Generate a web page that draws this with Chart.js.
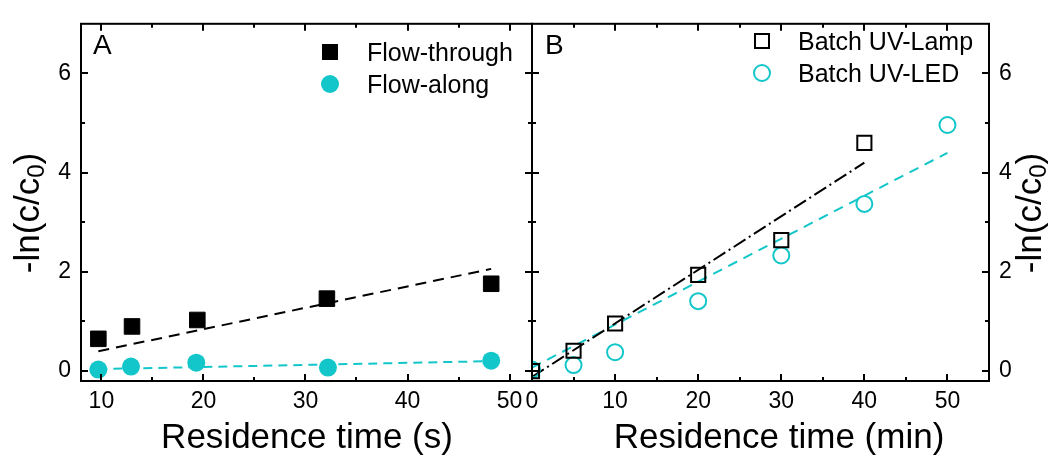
<!DOCTYPE html>
<html>
<head>
<meta charset="utf-8">
<script src="https://cdn.jsdelivr.net/npm/chart.js@4.4.0/dist/chart.umd.min.js"></script>
<style>
  html, body { margin: 0; padding: 0; background: #fff; }
  #wrap { position: relative; width: 1059px; height: 455px; }
  #wrap canvas { position: absolute; left: 0; top: 0; }
</style>
</head>
<body>
<div id="wrap">
  <canvas id="panelA" width="1059" height="455"></canvas>
  <canvas id="panelB" width="1059" height="455"></canvas>
</div>
<script>
// Panel A — residence time (s)
const flowThroughX = [9.7, 13.0, 19.4, 32.1, 48.2];
const flowThroughY = [0.65, 0.90, 1.03, 1.46, 1.76];
const flowAlongX = [9.7, 12.9, 19.3, 32.2, 48.2];
const flowAlongY = [0.03, 0.09, 0.17, 0.07, 0.21];
const fitThroughX = [9.7, 48.2];
const fitThroughY = [0.40, 2.06];
const fitAlongX = [9.7, 48.2];
const fitAlongY = [0.04, 0.20];

// Panel B — residence time (min)
const lampX = [0, 5, 10, 20, 30, 40];
const lampY = [0.0, 0.41, 0.96, 1.94, 2.64, 4.60];
const ledX = [0, 5, 10, 20, 30, 40, 50];
const ledY = [0.03, 0.12, 0.38, 1.41, 2.33, 3.37, 4.96];
const fitLampX = [0, 40];
const fitLampY = [-0.12, 4.20];
const fitLedX = [0, 50];
const fitLedY = [0.07, 4.40];

// Tick labels
const xTicksA = [10, 20, 30, 40, 50];
const xMinorA = [15, 25, 35, 45];
const xTicksB = [0, 10, 20, 30, 40, 50];
const xMinorB = [5, 15, 25, 35, 45];
const yTicks = [0, 2, 4, 6];
const yMinor = [1, 3, 5];

const CYAN = '#12c6c9';
const FONT = "'Liberation Sans', Arial, sans-serif";

const pts = (xs, ys) => xs.map((x, i) => ({ x: x, y: ys[i] }));

function drawMarker(ctx, style, filled, color, x, y, size) {
  ctx.beginPath();
  if (style === 'rect') ctx.rect(x - size / 2, y - size / 2, size, size);
  else ctx.arc(x, y, size / 2, 0, Math.PI * 2);
  if (filled) { ctx.fillStyle = color; ctx.fill(); }
  else { ctx.strokeStyle = color; ctx.lineWidth = 2; ctx.stroke(); }
}

function drawYTitle(ctx, cx, cy) {
  const big = '35px ' + FONT, small = '24px ' + FONT;
  ctx.font = big;
  const w1 = ctx.measureText('-ln(c/c').width;
  const w3 = ctx.measureText(')').width;
  ctx.font = small;
  const w2 = ctx.measureText('0').width;
  ctx.save();
  ctx.translate(cx, cy);
  ctx.rotate(-Math.PI / 2);
  ctx.fillStyle = '#000';
  ctx.textAlign = 'left';
  ctx.textBaseline = 'middle';
  let p = -(w1 + w2 + w3) / 2;
  ctx.font = big; ctx.fillText('-ln(c/c', p, 0); p += w1;
  ctx.font = small; ctx.fillText('0', p, 8); p += w2;
  ctx.font = big; ctx.fillText(')', p, 0);
  ctx.restore();
}

// frame, inward ticks on all four sides, legend, letters and titles
const framePlugin = {
  id: 'frame',
  afterDatasetsDraw(chart, args, o) {
    const { ctx, chartArea: a } = chart;
    const xs = chart.scales.x, ys = chart.scales.y;
    ctx.save();
    ctx.strokeStyle = '#000';
    ctx.lineWidth = 2;
    ctx.strokeRect(a.left, a.top, a.right - a.left, a.bottom - a.top);

    const xTick = (v, len) => {
      const px = Math.round(xs.getPixelForValue(v));
      ctx.beginPath();
      ctx.moveTo(px, a.bottom); ctx.lineTo(px, a.bottom - len);
      ctx.moveTo(px, a.top); ctx.lineTo(px, a.top + len);
      ctx.stroke();
    };
    const yTick = (v, len) => {
      const py = Math.round(ys.getPixelForValue(v));
      ctx.beginPath();
      ctx.moveTo(a.left, py); ctx.lineTo(a.left + len, py);
      ctx.moveTo(a.right, py); ctx.lineTo(a.right - len, py);
      ctx.stroke();
    };
    o.xMajor.forEach(v => xTick(v, 7));
    o.xMinor.forEach(v => xTick(v, 4));
    yTicks.forEach(v => yTick(v, 7));
    yMinor.forEach(v => yTick(v, 4));

    // legend inside the plot
    ctx.font = '25px ' + FONT;
    ctx.textAlign = 'left';
    ctx.textBaseline = 'alphabetic';
    o.legend.forEach(item => {
      drawMarker(ctx, item.style, item.filled, item.color, o.legendX, item.y, item.size);
      ctx.fillStyle = '#000';
      ctx.fillText(item.label, o.textX, item.y + 9);
    });

    // panel letter
    ctx.font = '28px ' + FONT;
    ctx.fillStyle = '#000';
    ctx.fillText(o.letter, o.letterX, 54);

    // x title
    ctx.font = '35px ' + FONT;
    ctx.textAlign = 'center';
    ctx.fillText(o.xTitle, o.xTitleX, 448);

    drawYTitle(ctx, o.yTitleX, 213);
    ctx.restore();
  }
};

const tickFont = { family: FONT, size: 23 };

function axes(xMin, xMax, xTicks, yPos, yWidth, yPad) {
  return {
    x: {
      type: 'linear', min: xMin, max: xMax,
      afterFit: s => { s.height = 74; },
      afterBuildTicks: s => { s.ticks = xTicks.map(v => ({ value: v })); },
      grid: { display: false, drawTicks: false },
      border: { display: false },
      ticks: { font: tickFont, color: '#000', padding: 7, autoSkip: false, maxRotation: 0 }
    },
    y: {
      type: 'linear', position: yPos, min: -0.2, max: 7,
      afterFit: s => { s.width = yWidth; },
      afterBuildTicks: s => { s.ticks = yTicks.map(v => ({ value: v })); },
      grid: { display: false, drawTicks: false },
      border: { display: false },
      ticks: { font: tickFont, color: '#000', padding: yPad }
    }
  };
}

const common = {
  responsive: false,
  animation: false,
  events: [],
  plugins: { legend: { display: false }, tooltip: { enabled: false } }
};

new Chart(document.getElementById('panelA'), {
  type: 'scatter',
  data: {
    datasets: [
      { label: 'Flow-through', data: pts(flowThroughX, flowThroughY), pointStyle: 'rect',
        pointRadius: 11, backgroundColor: '#000', borderColor: '#000', borderWidth: 1 },
      { label: 'Flow-along', data: pts(flowAlongX, flowAlongY), pointStyle: 'circle',
        pointRadius: 9, backgroundColor: CYAN, borderColor: CYAN, borderWidth: 0 },
      { label: 'fit through', data: pts(fitThroughX, fitThroughY), showLine: true, pointRadius: 0,
        borderColor: '#000', borderWidth: 2, borderDash: [11, 7] },
      { label: 'fit along', data: pts(fitAlongX, fitAlongY), showLine: true, pointRadius: 0,
        borderColor: CYAN, borderWidth: 2, borderDash: [9, 6] }
    ]
  },
  options: Object.assign({}, common, {
    layout: { padding: { left: 0, top: 19, right: 527, bottom: 0 } },
    scales: axes(8, 52.2, xTicksA, 'left', 81, 10),
    plugins: Object.assign({}, common.plugins, {
      frame: {
        xMajor: xTicksA, xMinor: xMinorA, letter: 'A', letterX: 93,
        xTitle: 'Residence time (s)', xTitleX: 307, yTitleX: 29,
        legendX: 330, textX: 367,
        legend: [
          { label: 'Flow-through', style: 'rect', filled: true, color: '#000', y: 52, size: 16 },
          { label: 'Flow-along', style: 'circle', filled: true, color: CYAN, y: 84, size: 18 }
        ]
      }
    })
  }),
  plugins: [framePlugin]
});

new Chart(document.getElementById('panelB'), {
  type: 'scatter',
  data: {
    datasets: [
      { label: 'Batch UV-Lamp', data: pts(lampX, lampY), pointStyle: 'rect',
        pointRadius: 10, backgroundColor: 'rgba(0,0,0,0)', borderColor: '#000', borderWidth: 2 },
      { label: 'Batch UV-LED', data: pts(ledX, ledY), pointStyle: 'circle',
        pointRadius: 8, backgroundColor: 'rgba(0,0,0,0)', borderColor: CYAN, borderWidth: 2 },
      { label: 'fit lamp', data: pts(fitLampX, fitLampY), showLine: true, pointRadius: 0,
        borderColor: '#000', borderWidth: 2, borderDash: [14, 4, 2, 4] },
      { label: 'fit led', data: pts(fitLedX, fitLedY), showLine: true, pointRadius: 0,
        borderColor: CYAN, borderWidth: 2, borderDash: [10, 7] }
    ]
  },
  options: Object.assign({}, common, {
    layout: { padding: { left: 532, top: 19, right: 0, bottom: 0 } },
    scales: axes(0, 55, xTicksB, 'right', 70, 10),
    plugins: Object.assign({}, common.plugins, {
      frame: {
        xMajor: xTicksB, xMinor: xMinorB, letter: 'B', letterX: 545,
        xTitle: 'Residence time (min)', xTitleX: 779, yTitleX: 1031,
        legendX: 762, textX: 798,
        legend: [
          { label: 'Batch UV-Lamp', style: 'rect', filled: false, color: '#000', y: 41, size: 14 },
          { label: 'Batch UV-LED', style: 'circle', filled: false, color: CYAN, y: 73, size: 16 }
        ]
      }
    })
  }),
  plugins: [framePlugin]
});
</script>
</body>
</html>
